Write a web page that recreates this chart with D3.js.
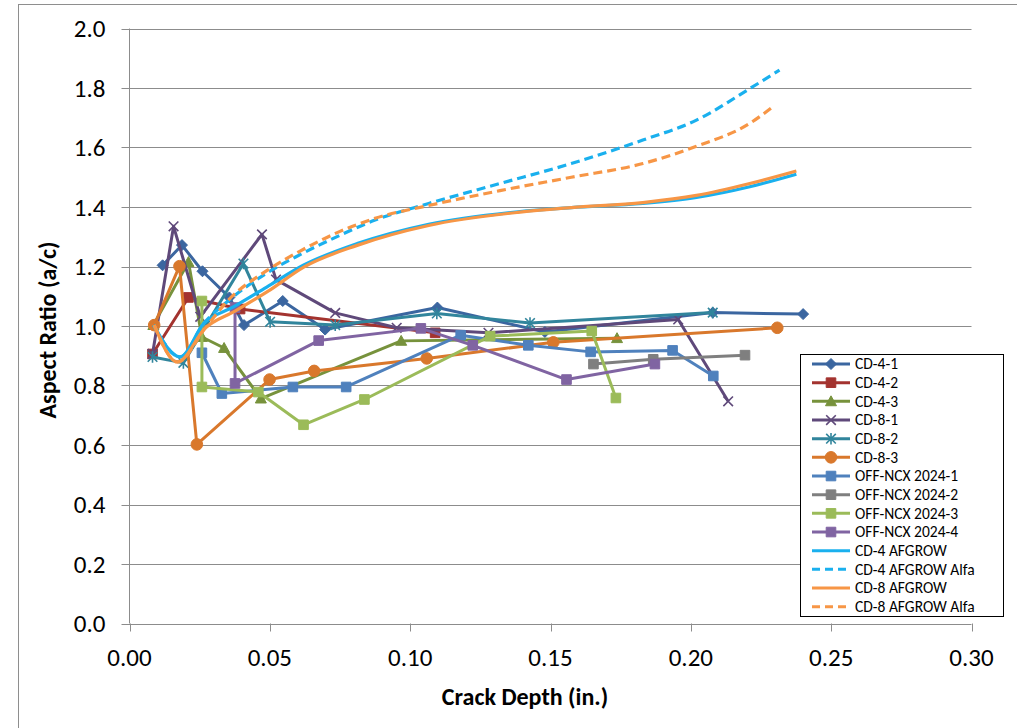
<!DOCTYPE html>
<html>
<head>
<meta charset="utf-8">
<script src="https://cdn.jsdelivr.net/npm/d3@7"></script>
<style>
  body { margin: 0; background: #fff; }
  svg { font-family: Carlito, Calibri, "Liberation Sans Narrow", "Open Sans", sans-serif; }
</style>
</head>
<body>
<svg id="chart"></svg>
<script>
// --- Data: [crack depth (in.), aspect ratio a/c] ---
const cd41 = [[0.0118, 1.204], [0.0187, 1.272], [0.0260, 1.184], [0.0356, 1.096], [0.0408, 1.003],
  [0.0546, 1.084], [0.0697, 0.988], [0.1097, 1.062], [0.1480, 0.980], [0.2078, 1.045], [0.2400, 1.040]];
const cd42 = [[0.0082, 0.906], [0.0210, 1.096], [0.0394, 1.057], [0.1089, 0.977]];
const cd43 = [[0.0085, 1.003], [0.0210, 1.215], [0.0258, 0.963], [0.0337, 0.926], [0.0468, 0.756],
  [0.0968, 0.950], [0.1737, 0.959]];
const cd81 = [[0.0082, 0.906], [0.0157, 1.335], [0.0252, 1.031], [0.0472, 1.308], [0.0522, 1.156],
  [0.0733, 1.044], [0.0952, 0.994], [0.1279, 0.977], [0.1955, 1.022], [0.2133, 0.747]];
const cd82 = [[0.0082, 0.896], [0.0192, 0.876], [0.0406, 1.210], [0.0501, 1.014], [0.0733, 1.003],
  [0.1095, 1.042], [0.1427, 1.010], [0.2078, 1.045]];
const cd83 = [[0.0088, 1.003], [0.0178, 1.201], [0.0240, 0.602], [0.0499, 0.820], [0.0658, 0.849],
  [0.1059, 0.891], [0.1510, 0.945], [0.2308, 0.994]];
const ncx1 = [[0.0258, 0.910], [0.0329, 0.773], [0.0582, 0.795], [0.0772, 0.795], [0.1180, 0.969],
  [0.1421, 0.935], [0.1643, 0.913], [0.1935, 0.918], [0.2080, 0.832]];
const ncx2 = [[0.1653, 0.872], [0.1866, 0.888], [0.2193, 0.902]];
const ncx3 = [[0.0258, 1.084], [0.0258, 0.795], [0.0459, 0.778], [0.0620, 0.668], [0.0837, 0.753],
  [0.1285, 0.966], [0.1647, 0.983], [0.1733, 0.758]];
const ncx4 = [[0.0376, 1.062], [0.0376, 0.807], [0.0674, 0.951], [0.1038, 0.992], [0.1223, 0.935],
  [0.1557, 0.820], [0.1872, 0.872]];
const cd4Afgrow = [[0.0086, 1.003], [0.0181, 0.896], [0.0264, 1.008], [0.0370, 1.064], [0.0489, 1.131],
  [0.0621, 1.205], [0.0811, 1.277], [0.1066, 1.342], [0.1384, 1.384], [0.1574, 1.398], [0.1829, 1.412],
  [0.2020, 1.432], [0.2210, 1.468], [0.2376, 1.510]];
const cd4Alfa = [[0.0086, 1.003], [0.0181, 0.896], [0.0264, 1.008], [0.0359, 1.090], [0.0489, 1.178],
  [0.0608, 1.240], [0.0750, 1.305], [0.0875, 1.356], [0.1066, 1.412], [0.1320, 1.479], [0.1574, 1.546],
  [0.1829, 1.625], [0.2020, 1.692], [0.2210, 1.798], [0.2316, 1.860]];
const cd8Afgrow = [[0.0088, 1.003], [0.0171, 0.879], [0.0270, 0.993], [0.0376, 1.050], [0.0494, 1.117],
  [0.0621, 1.198], [0.0811, 1.271], [0.1066, 1.338], [0.1384, 1.382], [0.1574, 1.398], [0.1829, 1.415],
  [0.2020, 1.439], [0.2210, 1.479], [0.2376, 1.521]];
const cd8Alfa = [[0.0088, 1.003], [0.0171, 0.879], [0.0270, 0.993], [0.0352, 1.087], [0.0489, 1.186],
  [0.0608, 1.252], [0.0750, 1.318], [0.0875, 1.362], [0.1066, 1.405], [0.1320, 1.455], [0.1574, 1.500],
  [0.1829, 1.546], [0.2020, 1.604], [0.2210, 1.681], [0.2299, 1.742]];

const seriesNames = ["CD-4-1", "CD-4-2", "CD-4-3", "CD-8-1", "CD-8-2", "CD-8-3",
  "OFF-NCX 2024-1", "OFF-NCX 2024-2", "OFF-NCX 2024-3", "OFF-NCX 2024-4",
  "CD-4 AFGROW", "CD-4 AFGROW Alfa", "CD-8 AFGROW", "CD-8 AFGROW Alfa"];
const seriesValues = [cd41, cd42, cd43, cd81, cd82, cd83, ncx1, ncx2, ncx3, ncx4,
  cd4Afgrow, cd4Alfa, cd8Afgrow, cd8Alfa];

const xTicks = [0, 0.05, 0.10, 0.15, 0.20, 0.25, 0.30];
const yTicks = [0, 0.2, 0.4, 0.6, 0.8, 1.0, 1.2, 1.4, 1.6, 1.8, 2.0];
const xTitle = "Crack Depth (in.)";
const yTitle = "Aspect Ratio (a/c)";

// --- Styles for each series (same order as seriesNames) ---
const styles = [
  { color: "#3b66a0", marker: "diamond" },
  { color: "#a3332f", marker: "square" },
  { color: "#77923c", marker: "triangle" },
  { color: "#5f497a", marker: "x" },
  { color: "#31859c", marker: "star" },
  { color: "#d9782c", marker: "circle" },
  { color: "#4f81bd", marker: "square" },
  { color: "#7f7f7f", marker: "square" },
  { color: "#9bbb59", marker: "square" },
  { color: "#8064a2", marker: "square" },
  { color: "#1ab0ee", marker: null, smooth: true },
  { color: "#1ab0ee", marker: null, smooth: true, dash: "9,5" },
  { color: "#f79646", marker: null, smooth: true },
  { color: "#f79646", marker: null, smooth: true, dash: "9,5" }
];

const width = 1017;
const height = 728;

const svg = d3.select("#chart")
    .attr("width", width)
    .attr("height", height)
    .attr("viewBox", [0, 0, width, height]);

// chart frame (only left and top edges fall inside the picture)
svg.append("rect")
    .attr("x", 18.5).attr("y", 4.5)
    .attr("width", 1040).attr("height", 760)
    .attr("fill", "none")
    .attr("stroke", "#8e8e8e");

// --- Scales ---
const x = d3.scaleLinear().domain([0, 0.3]).range([129.5, 971.5]);
const y = d3.scaleLinear().domain([0, 2]).range([623.5, 28.5]);

// --- Grid + axes ---
svg.append("g")
  .selectAll("line")
  .data(yTicks)
  .join("line")
    .attr("x1", x(0) - 8)
    .attr("x2", x(0.3))
    .attr("y1", d => Math.round(y(d)) + 0.5)
    .attr("y2", d => Math.round(y(d)) + 0.5)
    .attr("stroke", "#8c8c8c")
    .attr("stroke-width", 1);

svg.append("line")
    .attr("x1", x(0)).attr("x2", x(0))
    .attr("y1", y(2)).attr("y2", y(0))
    .attr("stroke", "#8c8c8c");

svg.append("g")
  .selectAll("line")
  .data(xTicks)
  .join("line")
    .attr("x1", d => Math.round(x(d)) + 0.5)
    .attr("x2", d => Math.round(x(d)) + 0.5)
    .attr("y1", y(0))
    .attr("y2", y(0) + 8)
    .attr("stroke", "#8c8c8c");

svg.append("g")
  .selectAll("text")
  .data(yTicks)
  .join("text")
    .attr("x", x(0) - 24)
    .attr("y", d => y(d))
    .attr("dy", "0.35em")
    .attr("text-anchor", "end")
    .attr("font-size", 25)
    .attr("fill", "#000")
    .text(d => d3.format(".1f")(d));

svg.append("g")
  .selectAll("text")
  .data(xTicks)
  .join("text")
    .attr("x", d => x(d))
    .attr("y", y(0) + 42)
    .attr("text-anchor", "middle")
    .attr("font-size", 25)
    .attr("fill", "#000")
    .text(d => d3.format(".2f")(d));

svg.append("text")
    .attr("x", 525)
    .attr("y", 705)
    .attr("text-anchor", "middle")
    .attr("font-size", 24)
    .attr("font-weight", "bold")
    .text(xTitle);

svg.append("text")
    .attr("transform", `translate(56,330) rotate(-90)`)
    .attr("text-anchor", "middle")
    .attr("font-size", 24)
    .attr("font-weight", "bold")
    .text(yTitle);

// --- Marker shapes ---
function markerPath(type) {
    switch (type) {
        case "diamond": { const r = 5.5; return `M0,${-r}L${r},0L0,${r}L${-r},0Z`; }
        case "square": { const r = 4.8; return `M${-r},${-r}H${r}V${r}H${-r}Z`; }
        case "triangle": { const r = 5.5; return `M0,${-r}L${r},${r * 0.8}L${-r},${r * 0.8}Z`; }
        case "circle": { const r = 5.8; return `M${r},0A${r},${r},0,1,1,${-r},0A${r},${r},0,1,1,${r},0Z`; }
        case "x": { const r = 4.8; return `M${-r},${-r}L${r},${r}M${-r},${r}L${r},${-r}`; }
        case "star": { const r = 4.8; return `M${-r},${-r}L${r},${r}M${-r},${r}L${r},${-r}M0,${-r - 1}V${r + 1}`; }
    }
    return null;
}
const strokeMarkers = ["x", "star"];

function drawMarker(g, type, color, px, py) {
    const stroked = strokeMarkers.includes(type);
    g.append("path")
        .attr("d", markerPath(type))
        .attr("transform", `translate(${px},${py})`)
        .attr("fill", stroked ? "none" : color)
        .attr("stroke", color)
        .attr("stroke-width", stroked ? 1.6 : 1);
}

// --- Series ---
const lineStraight = d3.line().x(d => x(d[0])).y(d => y(d[1]));
const lineSmooth = d3.line().x(d => x(d[0])).y(d => y(d[1])).curve(d3.curveMonotoneX);

const plot = svg.append("g");
seriesValues.forEach((vals, i) => {
    const st = styles[i];
    const g = plot.append("g");
    g.append("path")
        .attr("d", (st.smooth ? lineSmooth : lineStraight)(vals))
        .attr("fill", "none")
        .attr("stroke", st.color)
        .attr("stroke-width", st.smooth ? 3.2 : 3)
        .attr("stroke-linejoin", "round")
        .attr("stroke-dasharray", st.dash || null);
    if (st.marker) {
        vals.forEach(d => drawMarker(g, st.marker, st.color, x(d[0]), y(d[1])));
    }
});

// --- Legend ---
const legend = svg.append("g");
legend.append("rect")
    .attr("x", 800.5).attr("y", 354.5)
    .attr("width", 203).attr("height", 262)
    .attr("fill", "#fff")
    .attr("stroke", "#000")
    .attr("stroke-width", 1);

seriesNames.forEach((name, i) => {
    const st = styles[i];
    const ly = 364 + i * 18.67;
    const g = legend.append("g");
    g.append("line")
        .attr("x1", 812).attr("x2", 850)
        .attr("y1", ly).attr("y2", ly)
        .attr("stroke", st.color)
        .attr("stroke-width", 3)
        .attr("stroke-dasharray", st.dash ? "8,5" : null);
    if (st.marker) drawMarker(g, st.marker, st.color, 831, ly);
    g.append("text")
        .attr("x", 855)
        .attr("y", ly)
        .attr("dy", "0.35em")
        .attr("font-size", 15.5)
        .attr("fill", "#000")
        .text(name);
});
</script>
</body>
</html>
